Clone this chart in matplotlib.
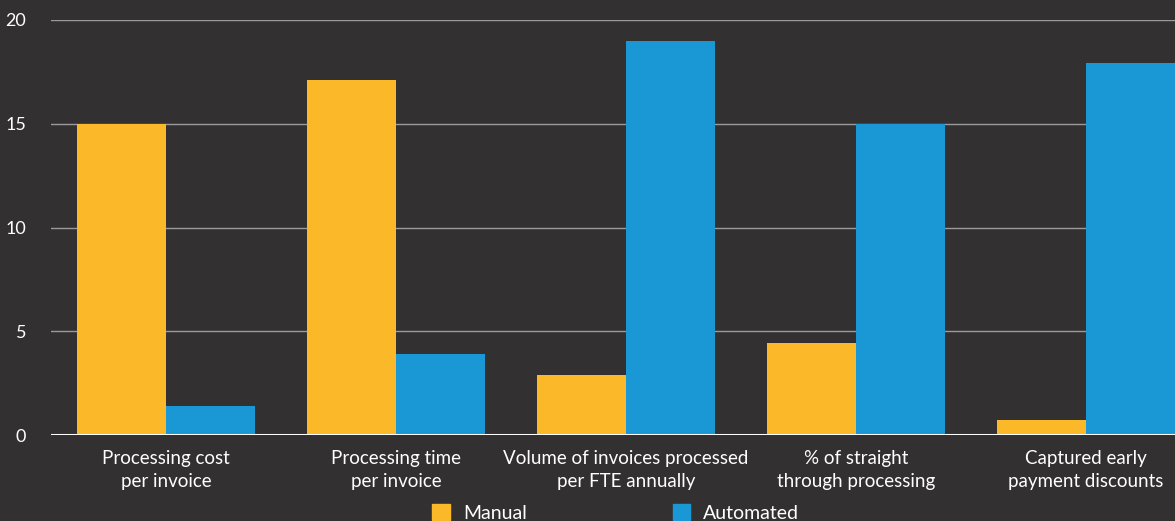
import numpy as np
import matplotlib.pyplot as plt
from matplotlib.patches import Patch

categories = ["Processing cost\nper invoice", "Processing time\nper invoice",
              "Volume of invoices processed\nper FTE annually",
              "% of straight\nthrough processing",
              "Captured early\npayment discounts"]
manual = [15, 17.1, 2.9, 4.45, 0.7]
automated = [1.4, 3.9, 19, 15, 17.95]
yticks = [0, 5, 10, 15, 20]

bg = "#323031"
orange = "#FBB829"
blue = "#1A98D5"

plt.rcParams['font.family'] = ['Lato', 'DejaVu Sans']

fig = plt.figure(figsize=(11.75, 5.21), dpi=100, facecolor=bg)
ax = fig.add_axes([51/1175, 86/521, 1124/1175, 415/521], facecolor=bg)

x = np.arange(len(categories))
w = 0.385
ax.bar(x - w/2, manual, w, color=orange, zorder=3)
ax.bar(x + w/2, automated, w, color=blue, zorder=3)

ax.set_xlim(-0.5, -0.5 + 1124/230)
ax.set_ylim(0, 20)
ax.set_yticks(yticks)
for t in yticks[1:]:
    ax.axhline(t, color="#9a9a9a", lw=1, zorder=1)
ax.axhline(0, color="white", lw=2.2, zorder=4)

ax.set_xticks(x)
ax.set_xticklabels(categories, color="white", fontsize=13.5, linespacing=1.4)
ax.tick_params(axis='x', length=0, pad=11)
ax.tick_params(axis='y', length=0, pad=18, labelsize=13, labelcolor="white")
for s in ax.spines.values():
    s.set_visible(False)

handles = [Patch(color=orange, label="Manual"), Patch(color=blue, label="Automated")]
fig.legend(handles=handles, loc='center', bbox_to_anchor=(0.524, 0.015), ncol=2,
           frameon=False, fontsize=14, labelcolor="white", handlelength=0.9,
           handleheight=0.9, columnspacing=7.5, handletextpad=0.67)

fig.savefig("out.png", dpi=100, facecolor=bg)
